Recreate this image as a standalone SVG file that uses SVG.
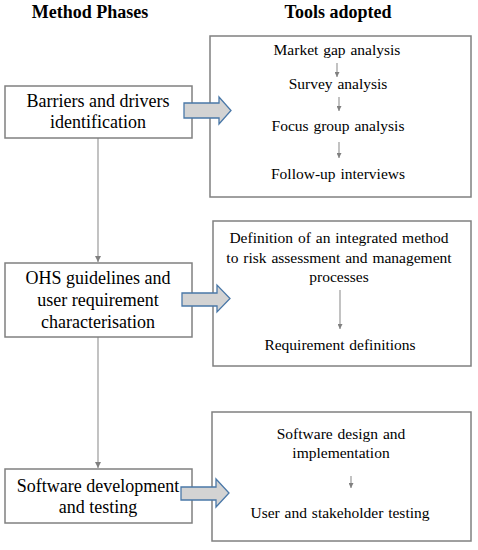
<svg xmlns="http://www.w3.org/2000/svg" width="478" height="550" viewBox="0 0 478 550">
<style>
  .box { fill: #ffffff; stroke: #808080; stroke-width: 1.5; }
  text { font-family: 'Liberation Serif', 'DejaVu Serif', 'Times New Roman', Times, serif; fill: #000; text-anchor: middle; }
  .title { font-weight: bold; font-size: 18px; }
  .lt { font-size: 18px; }
  .rt { font-size: 15.5px; word-spacing: 1px; }
  .conn { stroke: #9a9a9a; stroke-width: 1.2; fill: none; }
  .small { stroke: #9a9a9a; stroke-width: 1.2; fill: none; }
  .big { fill: #d3d3d3; stroke: #4a78a8; stroke-width: 1.3; }
</style>
<defs>
  <marker id="ah" viewBox="0 0 10 10" refX="10" refY="5" markerWidth="5" markerHeight="5" markerUnits="userSpaceOnUse" orient="auto">
    <path d="M0,0 L10,5 L0,10 z" fill="#808080"/>
  </marker>
  <marker id="ahL" viewBox="0 0 10 10" refX="10" refY="5" markerWidth="6" markerHeight="6" markerUnits="userSpaceOnUse" orient="auto">
    <path d="M0,0 L10,5 L0,10 z" fill="#808080"/>
  </marker>
</defs>

<text class="title" x="90" y="18" font-family="Liberation Serif, serif">Method Phases</text>
<text class="title" x="338" y="18" font-family="Liberation Serif, serif">Tools adopted</text>

<g id="connectors">
  <line class="conn" x1="98" y1="138" x2="98" y2="262" marker-end="url(#ahL)"/>
  <line class="conn" x1="98" y1="337" x2="98" y2="468" marker-end="url(#ahL)"/>
</g>

<g id="phase1">
  <rect class="box" x="5" y="86" width="187" height="52"/>
  <text class="lt" x="98" y="107">Barriers and drivers</text>
  <text class="lt" x="98" y="128">identification</text>
</g>
<g id="tools1">
  <rect class="box" x="210" y="36" width="261" height="161"/>
  <text class="rt" x="337" y="55">Market gap analysis</text>
  <line class="small" x1="337" y1="63" x2="337" y2="77" marker-end="url(#ah)"/>
  <text class="rt" x="338" y="89">Survey analysis</text>
  <line class="small" x1="339" y1="97" x2="339" y2="111" marker-end="url(#ah)"/>
  <text class="rt" x="338" y="131">Focus group analysis</text>
  <line class="small" x1="339" y1="142" x2="339" y2="158" marker-end="url(#ah)"/>
  <text class="rt" x="338" y="179">Follow-up interviews</text>
</g>

<g id="phase2">
  <rect class="box" x="5" y="263" width="187" height="74"/>
  <text class="lt" x="98" y="284">OHS guidelines and</text>
  <text class="lt" x="98" y="306">user requirement</text>
  <text class="lt" x="98" y="328">characterisation</text>
</g>
<g id="tools2">
  <rect class="box" x="213" y="221" width="258" height="145"/>
  <text class="rt" x="339" y="243">Definition of an integrated method</text>
  <text class="rt" x="339" y="263">to risk assessment and management</text>
  <text class="rt" x="339" y="282">processes</text>
  <line class="small" x1="340" y1="290" x2="340" y2="329" marker-end="url(#ah)"/>
  <text class="rt" x="340" y="350">Requirement definitions</text>
</g>

<g id="phase3">
  <rect class="box" x="5" y="469" width="187" height="54"/>
  <text class="lt" x="98" y="492">Software development</text>
  <text class="lt" x="98" y="513">and testing</text>
</g>
<g id="tools3">
  <rect class="box" x="212" y="412" width="259" height="129"/>
  <text class="rt" x="341" y="439">Software design and</text>
  <text class="rt" x="341" y="458">implementation</text>
  <line class="small" x1="351" y1="476" x2="351" y2="488" marker-end="url(#ah)"/>
  <text class="rt" x="340" y="518">User and stakeholder testing</text>
</g>

<g id="bigarrows">
  <polygon class="big" points="184,103 219,103 219,97 231,110.5 219,124 219,118 184,118"/>
  <polygon class="big" points="182,293 217,293 217,285 230,298.5 217,312 217,306 182,306"/>
  <polygon class="big" points="181,487 216,487 216,479 229,493 216,507 216,500 181,500"/>
</g>
</svg>
